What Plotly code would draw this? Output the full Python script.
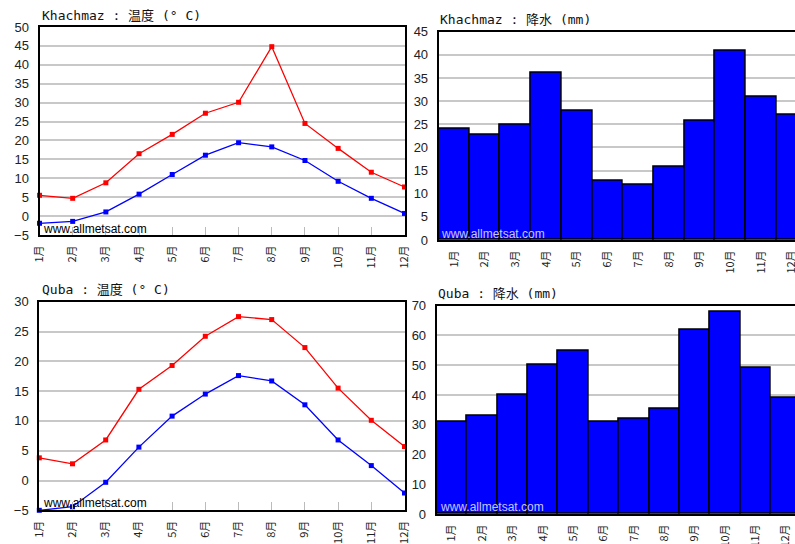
import plotly.graph_objects as go

months = ["1月", "2月", "3月", "4月", "5月", "6月", "7月", "8月", "9月", "10月", "11月", "12月"]
month_num = list(range(1, 13))

khachmaz_tmax = [5.5, 4.7, 8.8, 16.5, 21.6, 27.2, 30.1, 44.8, 24.5, 17.9, 11.6, 7.7]
khachmaz_tmin = [-1.9, -1.4, 1.1, 5.8, 11.0, 16.1, 19.4, 18.3, 14.7, 9.2, 4.7, 0.7]
khachmaz_prec = [24.0, 22.7, 24.9, 36.1, 27.9, 12.8, 11.9, 15.9, 25.8, 40.8, 30.9, 27.0]

quba_tmax = [3.8, 2.8, 6.8, 15.3, 19.3, 24.2, 27.5, 27.0, 22.3, 15.5, 10.1, 5.7]
quba_tmin = [-5.0, -4.4, -0.3, 5.6, 10.8, 14.5, 17.6, 16.7, 12.7, 6.8, 2.5, -2.1]
quba_prec = [31.0, 32.9, 40.0, 50.3, 54.9, 31.1, 32.0, 35.3, 61.9, 68.1, 49.3, 39.0]

titles = ["Khachmaz : 温度 (° C)", "Khachmaz : 降水 (mm)", "Quba : 温度 (° C)", "Quba : 降水 (mm)"]
watermark = "www.allmetsat.com"

W, H = 795, 544
def px(x):
    return x / W
def py(y):
    return 1 - y / H

fig = go.Figure()

RED = "#FF0000"
BLUE = "#0000FF"
GRID = "#C8C8C8"

def temp_traces(tmax, tmin, xa, ya):
    for vals, col in ((tmax, RED), (tmin, BLUE)):
        fig.add_trace(go.Scatter(x=month_num, y=vals, mode="lines+markers",
                                 line=dict(color=col, width=1.3),
                                 marker=dict(symbol="square", size=5, color=col),
                                 xaxis=xa, yaxis=ya, showlegend=False, cliponaxis=False))

def prec_trace(vals, xa, ya):
    fig.add_trace(go.Bar(x=month_num, y=vals, marker=dict(color=BLUE, line=dict(color="black", width=1.5)),
                         xaxis=xa, yaxis=ya, showlegend=False))

temp_traces(khachmaz_tmax, khachmaz_tmin, "x", "y")
prec_trace(khachmaz_prec, "x2", "y2")
temp_traces(quba_tmax, quba_tmin, "x3", "y3")
prec_trace(quba_prec, "x4", "y4")

tickfont_y = dict(family="Liberation Sans, Arial", size=13, color="#222")
tickfont_x = dict(family="Noto Sans CJK SC", size=11, color="#222")

def xaxis_temp(domain, anchor):
    return dict(domain=domain, anchor=anchor, range=[1, 12], tickmode="array", tickvals=month_num,
                ticktext=months, tickangle=-90, tickfont=tickfont_x, ticks="inside", ticklen=8,
                tickcolor="#BBBBBB", tickwidth=1, showgrid=False, zeroline=False, automargin=False,
                ticklabelstandoff=4, ticklabeloverflow="allow",
                showline=True, linecolor="black", linewidth=2, mirror=True)

def xaxis_prec(domain, anchor, rng):
    return dict(domain=domain, anchor=anchor, range=rng, tickmode="array", tickvals=month_num,
                ticktext=months, tickangle=-90, tickfont=tickfont_x, ticks="", showgrid=False,
                zeroline=False, automargin=False, ticklabelstandoff=4, ticklabeloverflow="allow",
                showline=True, linecolor="black", linewidth=2, mirror=True)

def yaxis(domain, anchor, rng, dtick, mirror):
    return dict(domain=domain, anchor=anchor, range=rng, dtick=dtick, tick0=0, tickfont=tickfont_y,
                showgrid=True, gridcolor=GRID, gridwidth=2, zeroline=False, ticks="", automargin=False,
                ticklabelstandoff=6, showline=True, linecolor="black", linewidth=2, mirror=mirror)

fig.update_layout(
    width=W, height=H, margin=dict(l=0, r=0, t=0, b=0),
    paper_bgcolor="white", plot_bgcolor="white", bargap=0,
    xaxis=xaxis_temp([px(39.5), px(404.5)], "y"),
    yaxis=yaxis([py(235), py(27)], "x", [-5, 50], 5, True),
    xaxis2=xaxis_prec([px(438.7), 1], "y2", [0.5, 12.1]),
    yaxis2=yaxis([py(240), py(31.7)], "x2", [0, 45], 5, False),
    xaxis3=xaxis_temp([px(39.3), px(404.5)], "y3"),
    yaxis3=yaxis([py(510.3), py(301.7)], "x3", [-5, 30], 5, True),
    xaxis4=xaxis_prec([px(436.7), 1], "y4", [0.5, 12.3]),
    yaxis4=yaxis([py(514), py(305.7)], "x4", [0, 70], 10, False),
)

title_font = dict(family="DejaVu Sans Mono, Noto Sans CJK SC", size=13, color="#111")
title_pos = [(40, 15), (438, 20), (40, 289), (436, 293)]
for t, (x, y) in zip(titles, title_pos):
    fig.add_annotation(text=t, x=px(x), y=py(y), xref="paper", yref="paper",
                       xanchor="left", yanchor="middle", showarrow=False, font=title_font)

wm_pos = [(41, 229, "black"), (439, 234, "#C8C8FF"), (41, 503, "black"), (438, 507, "#C8C8FF")]
for x, y, c in wm_pos:
    fig.add_annotation(text=watermark, x=px(x), y=py(y), xref="paper", yref="paper",
                       xanchor="left", yanchor="middle", showarrow=False,
                       font=dict(family="Liberation Sans, Arial", size=12, color=c))

fig.write_html("out.html", config={"displayModeBar": False},
               post_script="document.body.style.margin='0';document.body.style.overflow='hidden';")
